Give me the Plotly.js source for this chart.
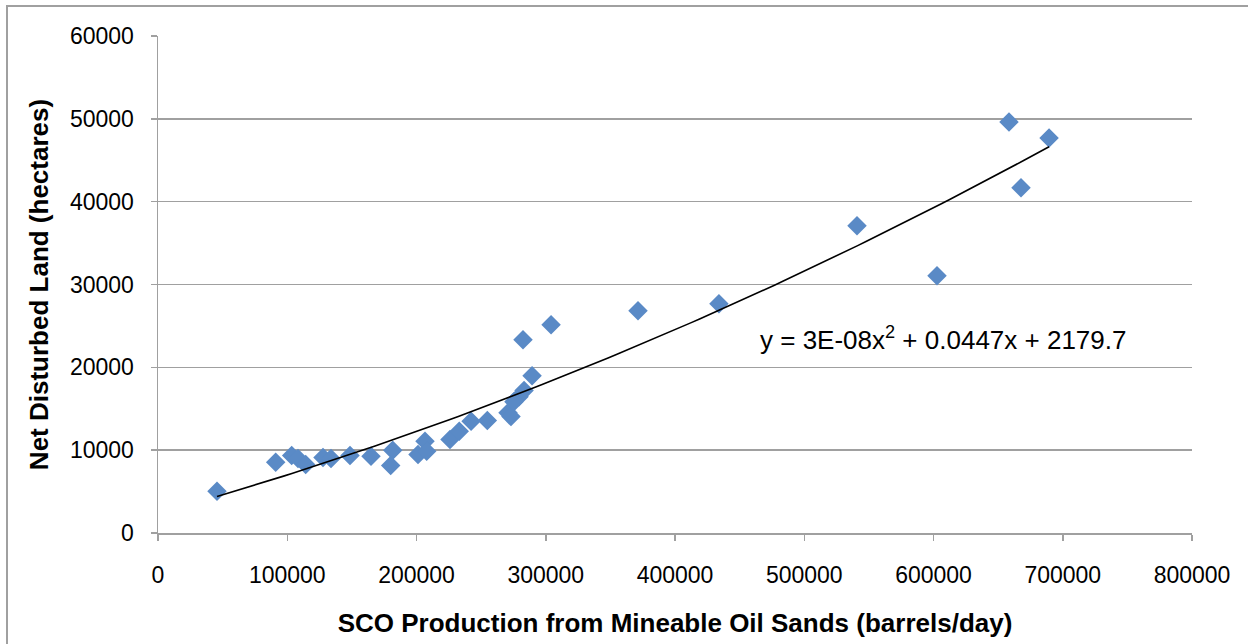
<!DOCTYPE html>
<html>
<head>
<meta charset="utf-8">
<script src="https://cdn.plot.ly/plotly-3.0.1.min.js"></script>
<style>
html,body{margin:0;padding:0;background:#fff;}
#chart{width:1248px;height:644px;}
</style>
</head>
<body>
<div id="chart"></div>
<script>
// SCO production from mineable oil sands (barrels/day)
var production = [45650, 91060, 103440, 108320, 114270, 127660, 133850, 148550, 164800, 181600,
  180040, 201160, 206580, 207900, 225900, 233100, 242200, 254800, 270800, 273100,
  275400, 279300, 283200, 289400, 282400, 304100, 371400, 434000, 540800, 602700,
  658400, 667700, 689400];
// Net disturbed land (hectares)
var disturbed = [5040, 8540, 9350, 8980, 8260, 9100, 8985, 9350, 9260, 9990,
  8140, 9470, 11070, 9865, 11280, 12280, 13480, 13570, 14530, 14050,
  15860, 16460, 17190, 18990, 23340, 25140, 26830, 27680, 37080, 31050,
  49630, 41670, 47700];
var xTicks = [0, 100000, 200000, 300000, 400000, 500000, 600000, 700000, 800000];
var yTicks = [0, 10000, 20000, 30000, 40000, 50000, 60000];
var equationText = 'y = 3E-08x<sup>2</sup> + 0.0447x + 2179.7';

// least-squares quadratic fit (polynomial trendline) computed from the data
function quadFit(xs, ys) {
  var n = xs.length, s = [0,0,0,0,0], t = [0,0,0];
  for (var i = 0; i < n; i++) {
    var x = xs[i] / 1e5, y = ys[i], p = 1;
    for (var k = 0; k < 5; k++) { s[k] += p; if (k < 3) t[k] += p * y; p *= x; }
  }
  var A = [[s[0], s[1], s[2], t[0]], [s[1], s[2], s[3], t[1]], [s[2], s[3], s[4], t[2]]];
  for (var c = 0; c < 3; c++) {
    for (var r = c + 1; r < 3; r++) {
      var f = A[r][c] / A[c][c];
      for (var q = c; q < 4; q++) A[r][q] -= f * A[c][q];
    }
  }
  var b = [0,0,0];
  for (var r2 = 2; r2 >= 0; r2--) {
    var v = A[r2][3];
    for (var q2 = r2 + 1; q2 < 3; q2++) v -= A[r2][q2] * b[q2];
    b[r2] = v / A[r2][r2];
  }
  return function (x) { var u = x / 1e5; return b[0] + b[1] * u + b[2] * u * u; };
}
var fit = quadFit(production, disturbed);
var xmin = Math.min.apply(null, production), xmax = Math.max.apply(null, production);
var trendX = [], trendY = [];
for (var i = 0; i <= 100; i++) {
  var xv = xmin + (xmax - xmin) * i / 100;
  trendX.push(xv); trendY.push(fit(xv));
}

var font = 'Liberation Sans, Arial, sans-serif';
var data = [
  {x: production, y: disturbed, type: 'scatter', mode: 'markers',
   marker: {symbol: 'diamond', size: 15, color: '#5a8ac6', line: {width: 0}}, cliponaxis: false},
  {x: trendX, y: trendY, type: 'scatter', mode: 'lines',
   line: {color: '#000000', width: 1.6}, hoverinfo: 'skip'}
];
var layout = {
  width: 1248, height: 644,
  margin: {l: 158, r: 56, t: 36, b: 110.5, pad: 0},
  paper_bgcolor: '#ffffff', plot_bgcolor: '#ffffff',
  showlegend: false,
  font: {family: font, size: 22, color: '#000'},
  xaxis: {
    range: [0, 800000], tickvals: xTicks, ticktext: xTicks.map(String),
    showgrid: false, zeroline: false, showline: true, linecolor: '#a0a0a0', linewidth: 1.5,
    ticks: 'outside', ticklen: 6, tickwidth: 1.5, tickcolor: '#a0a0a0',
    ticklabelstandoff: 15,
    tickfont: {family: font, size: 23, color: '#000'},
    title: {text: '<b>SCO Production from Mineable Oil Sands (barrels/day)</b>',
            font: {family: font, size: 26, color: '#000'}, standoff: 26}
  },
  yaxis: {
    range: [0, 60000], tickvals: yTicks, ticktext: yTicks.map(String),
    showgrid: true, gridcolor: '#a0a0a0', gridwidth: 1.5,
    zeroline: false, showline: true, linecolor: '#a0a0a0', linewidth: 1.5,
    ticks: 'outside', ticklen: 6, tickwidth: 1.5, tickcolor: '#a0a0a0',
    ticklabelstandoff: 12,
    tickfont: {family: font, size: 23, color: '#000'},
    title: {text: '<b>Net Disturbed Land (hectares)</b>',
            font: {family: font, size: 26, color: '#000'}, standoff: 14}
  },
  annotations: [{
    xref: 'paper', yref: 'paper', x: (758 - 158) / 1034, y: (533.5 - 339) / 497.5,
    xanchor: 'left', yanchor: 'middle', showarrow: false,
    text: equationText, font: {family: font, size: 26, color: '#000'}
  }],
  shapes: [{
    type: 'rect', xref: 'paper', yref: 'paper',
    x0: (7 - 158) / 1034, x1: (1260 - 158) / 1034,
    y0: (533.5 - 660) / 497.5, y1: (533.5 - 6) / 497.5,
    line: {color: '#a0a0a0', width: 2}, fillcolor: 'rgba(0,0,0,0)', layer: 'below'
  }]
};
Plotly.newPlot('chart', data, layout, {displayModeBar: false, staticPlot: true});
</script>
</body>
</html>
